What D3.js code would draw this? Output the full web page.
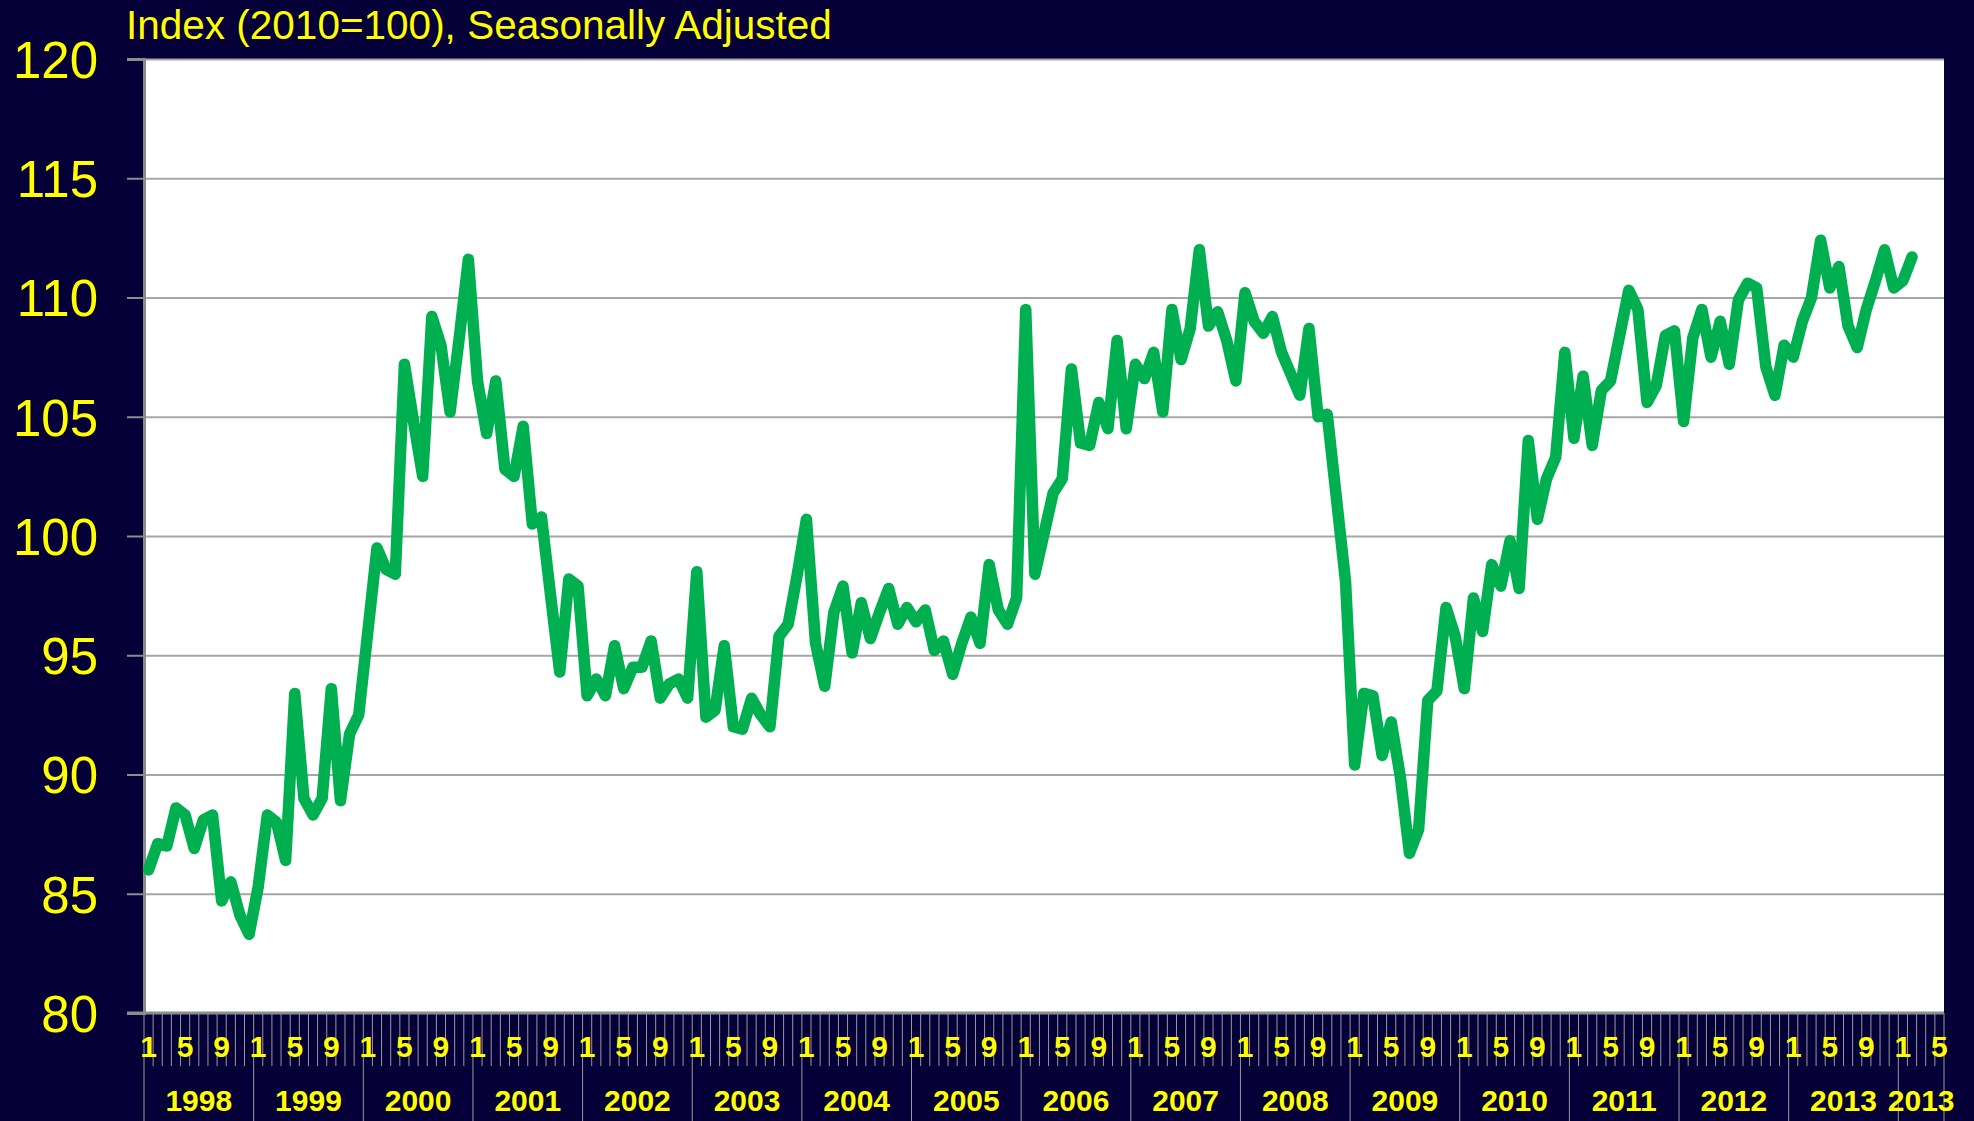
<!DOCTYPE html>
<html>
<head>
<meta charset="utf-8">
<script src="https://cdn.jsdelivr.net/npm/d3@7"></script>
<style>
  html, body { margin: 0; padding: 0; background: #050038; }
  svg { display: block; }
  text { font-family: "Liberation Sans", Arial, sans-serif; fill: #FFFF00; }
</style>
</head>
<body>
<div id="chart"></div>
<script>
// Year labels along the bottom (the last one reads "2013" in the original too)
const yearLabels = ["1998", "1999", "2000", "2001", "2002", "2003", "2004", "2005",
  "2006", "2007", "2008", "2009", "2010", "2011", "2012", "2013", "2013"];
// Number of month slots under each year label
const monthsPerYear = [12, 12, 12, 12, 12, 12, 12, 12, 12, 12, 12, 12, 12, 12, 12, 12, 5];
// Months that get a number label
const labelledMonths = [1, 5, 9];
// Y tick values
const yTicks = [80, 85, 90, 95, 100, 105, 110, 115, 120];

// Monthly index values, Jan 1998 .. Feb 2014
const values = [
  86.0, 87.1, 87.0, 88.6, 88.3, 86.9, 88.1, 88.3, 84.7, 85.5, 84.1, 83.3,        // 1998
  85.3, 88.3, 88.0, 86.4, 93.4, 89.0, 88.3, 89.0, 93.6, 88.9, 91.7, 92.5,        // 1999
  96.0, 99.5, 98.6, 98.4, 107.2, 104.8, 102.5, 109.2, 108.0, 105.2, 108.3, 111.6, // 2000
  106.5, 104.3, 106.5, 102.8, 102.5, 104.6, 100.5, 100.8, 97.5, 94.3, 98.2, 97.9, // 2001
  93.3, 94.0, 93.3, 95.4, 93.6, 94.5, 94.5, 95.6, 93.2, 93.8, 94.0, 93.2,        // 2002
  98.5, 92.4, 92.7, 95.4, 92.0, 91.9, 93.2, 92.5, 92.0, 95.8, 96.3, 98.4,        // 2003
  100.7, 95.5, 93.7, 96.8, 97.9, 95.1, 97.2, 95.7, 96.8, 97.8, 96.3, 97.0,       // 2004
  96.4, 96.9, 95.2, 95.6, 94.2, 95.5, 96.6, 95.5, 98.8, 96.9, 96.3, 97.4,        // 2005
  109.5, 98.4, 100.1, 101.8, 102.4, 107.0, 103.9, 103.8, 105.6, 104.5, 108.2, 104.5, // 2006
  107.2, 106.6, 107.7, 105.2, 109.5, 107.4, 108.7, 112.0, 108.8, 109.4, 108.2, 106.5, // 2007
  110.2, 109.0, 108.5, 109.2, 107.7, 106.8, 105.9, 108.7, 105.0, 105.1, 101.6, 98.1, // 2008
  90.4, 93.4, 93.3, 90.8, 92.2, 89.9, 86.7, 87.7, 93.1, 93.5, 97.0, 95.8,        // 2009
  93.6, 97.4, 96.0, 98.8, 97.9, 99.8, 97.8, 104.0, 100.7, 102.4, 103.3, 107.7,   // 2010
  104.1, 106.7, 103.8, 106.1, 106.5, 108.4, 110.3, 109.5, 105.6, 106.3, 108.4, 108.6, // 2011
  104.8, 108.3, 109.5, 107.5, 109.0, 107.2, 109.9, 110.6, 110.4, 107.1, 105.9, 108.0, // 2012
  107.5, 109.0, 110.0, 112.4, 110.4, 111.3, 108.8, 107.9, 109.5, 110.7, 112.0, 110.4, // 2013
  110.7, 111.7                                                                   // 2014
];

const width = 1974, height = 1121;
const margin = { top: 59, right: 30, bottom: 108, left: 144 };
const axisY = height - margin.bottom;

// Category slots, one per month
const categories = [];
yearLabels.forEach((yl, k) => {
  for (let m = 1; m <= monthsPerYear[k]; m++) categories.push({ key: k + "-" + m, year: k, month: m });
});

const svg = d3.select("#chart").append("svg")
  .attr("width", width)
  .attr("height", height);

svg.append("rect").attr("width", width).attr("height", height).attr("fill", "#050038");

const x = d3.scaleBand()
  .domain(categories.map(d => d.key))
  .range([margin.left, width - margin.right])
  .padding(0);

const y = d3.scaleLinear()
  .domain([80, 120])
  .range([axisY, margin.top]);

// Plot area
svg.append("rect")
  .attr("x", margin.left)
  .attr("y", margin.top)
  .attr("width", width - margin.right - margin.left)
  .attr("height", axisY - margin.top)
  .attr("fill", "#ffffff");

// Horizontal gridlines
svg.append("g")
  .attr("transform", `translate(${margin.left},0)`)
  .call(d3.axisLeft(y).tickValues(yTicks.slice(1)).tickSize(-(width - margin.right - margin.left)).tickFormat(""))
  .call(g => g.select(".domain").remove())
  .call(g => g.selectAll("line").attr("stroke", "#a6a6a6").attr("stroke-width", 2));

// Y axis with labels
svg.append("g")
  .attr("transform", `translate(${margin.left},0)`)
  .call(d3.axisLeft(y).tickValues(yTicks).tickSize(17).tickPadding(29))
  .call(g => g.select(".domain").attr("stroke", "#8c8c8c").attr("stroke-width", 3))
  .call(g => g.selectAll("line").attr("stroke", "#8c8c8c").attr("stroke-width", 2))
  .call(g => g.selectAll("text")
    .attr("font-size", 51)
    .attr("font-family", "'Liberation Sans', Arial, sans-serif")
    .attr("fill", "#FFFF00")
    .attr("dy", "0.36em"));

// Month boundary ticks and year separators
const bottom = svg.append("g");
categories.forEach((d, i) => {
  const xl = x(d.key);
  bottom.append("line")
    .attr("x1", xl).attr("x2", xl)
    .attr("y1", axisY).attr("y2", d.month === 1 ? height : axisY + 53)
    .attr("stroke", "#9a9a9a").attr("stroke-width", 1);
});
const xEnd = x(categories[categories.length - 1].key) + x.bandwidth();
bottom.append("line")
  .attr("x1", xEnd).attr("x2", xEnd)
  .attr("y1", axisY).attr("y2", height)
  .attr("stroke", "#9a9a9a").attr("stroke-width", 1);

// Month number labels
bottom.selectAll(".mlab")
  .data(categories.filter(d => labelledMonths.includes(d.month)))
  .enter().append("text")
  .attr("class", "mlab")
  .attr("x", d => x(d.key) + x.bandwidth() / 2)
  .attr("y", axisY + 44)
  .attr("text-anchor", "middle")
  .attr("font-size", 30)
  .attr("font-weight", "bold")
  .text(d => d.month);

// Year labels centred under each year's span
bottom.selectAll(".ylab")
  .data(yearLabels)
  .enter().append("text")
  .attr("class", "ylab")
  .attr("x", (d, k) => {
    const first = categories.find(c => c.year === k);
    return x(first.key) + x.bandwidth() * monthsPerYear[k] / 2;
  })
  .attr("y", axisY + 98)
  .attr("text-anchor", "middle")
  .attr("font-size", 30)
  .attr("font-weight", "bold")
  .text(d => d);

// Bottom axis line
svg.append("line")
  .attr("x1", margin.left - 17).attr("x2", width - margin.right)
  .attr("y1", axisY).attr("y2", axisY)
  .attr("stroke", "#8c8c8c").attr("stroke-width", 3);

// Series line
const line = d3.line()
  .x((v, i) => x(categories[i].key) + x.bandwidth() / 2)
  .y(v => y(v));

svg.append("path")
  .datum(values)
  .attr("fill", "none")
  .attr("stroke", "#00B050")
  .attr("stroke-width", 11.5)
  .attr("stroke-linejoin", "round")
  .attr("stroke-linecap", "round")
  .attr("d", line);

// Title
svg.append("text")
  .attr("x", 126)
  .attr("y", 39)
  .attr("font-size", 40.5)
  .text("Index (2010=100), Seasonally Adjusted");
</script>
</body>
</html>
